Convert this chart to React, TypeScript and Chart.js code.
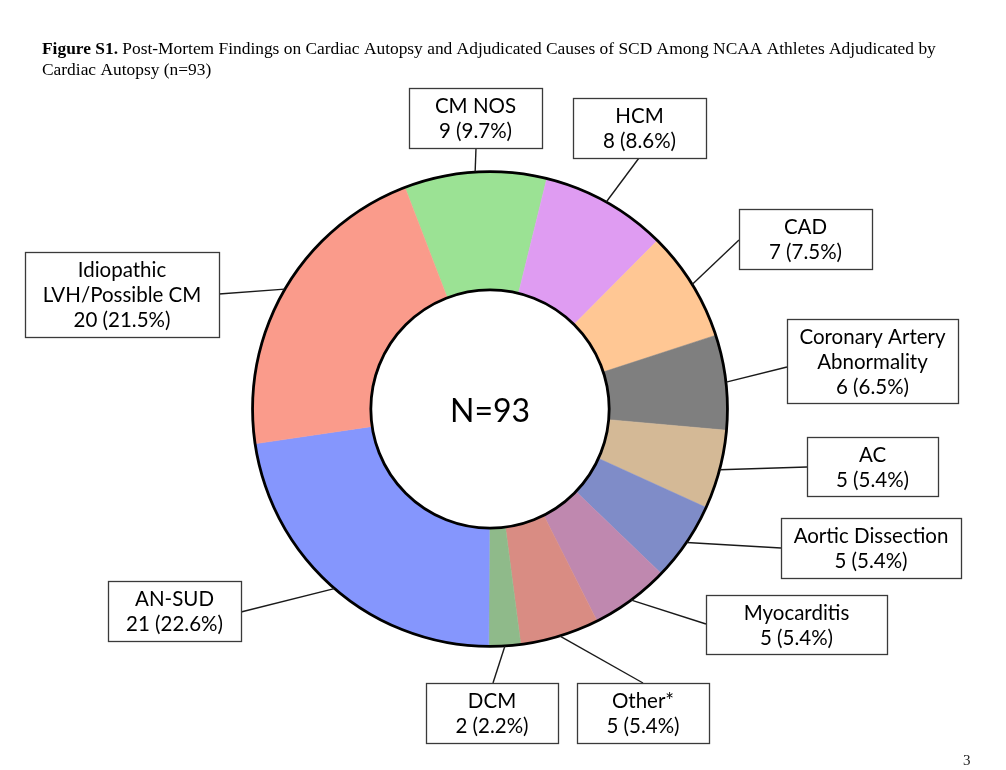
import { useEffect, useRef } from "react";
import { Chart, registerables } from "chart.js";

Chart.register(...registerables);

const categories: string[] = [
  "CM NOS",
  "HCM",
  "CAD",
  "Coronary Artery Abnormality",
  "AC",
  "Aortic Dissection",
  "Myocarditis",
  "Other*",
  "DCM",
  "AN-SUD",
  "Idiopathic LVH/Possible CM",
];
const counts: number[] = [9, 8, 7, 6, 5, 5, 5, 5, 2, 21, 20];
const labelLines: string[][] = [
  ["CM NOS"],
  ["HCM"],
  ["CAD"],
  ["Coronary Artery", "Abnormality"],
  ["AC"],
  ["Aortic Dissection"],
  ["Myocarditis"],
  ["Other*"],
  ["DCM"],
  ["AN-SUD"],
  ["Idiopathic", "LVH/Possible CM"],
];
const sliceColors: string[] = [
  "#9BE294",
  "#DF9CF2",
  "#FFC794",
  "#7F7F7F",
  "#D4B996",
  "#7F8CC8",
  "#BF88AF",
  "#D98C83",
  "#8FBA8A",
  "#8596FD",
  "#FA9B8B",
];
const totalN = 93;
const centerText = "N=93";
const titleBold = "Figure S1.";
const titleLine1 =
  " Post-Mortem Findings on Cardiac Autopsy and Adjudicated Causes of SCD Among NCAA Athletes Adjudicated by";
const titleLine2 = "Cardiac Autopsy (n=93)";
const pageNumber = "3";

// Label box layout: [left, top, width, height, anchorX, anchorY]
const boxLayout: number[][] = [
  [409, 88, 133, 60, 476, 148],
  [573, 98, 133, 60, 639, 158],
  [739, 209, 133, 60, 739, 240],
  [787, 319, 171, 84, 787, 367],
  [807, 437, 131, 59, 807, 467],
  [781, 518, 180, 60, 781, 548],
  [706, 595, 181, 59, 706, 624],
  [577, 683, 132, 60, 643, 683],
  [426, 683, 132, 60, 493, 683],
  [108, 581, 133, 60, 241, 612],
  [25, 252, 194, 85, 219, 294],
];

const LABEL_FONT = '20.5px Lato, "Noto Sans", sans-serif';

const annotationPlugin = {
  id: "annotations",
  afterDraw(chart: any) {
    const ctx: CanvasRenderingContext2D = chart.ctx;
    const meta = chart.getDatasetMeta(0);
    const arcs = meta.data;
    if (!arcs.length) return;
    const a0 = arcs[0];
    const cx = a0.x;
    const cy = a0.y;
    const outerR = a0.outerRadius;
    const innerR = a0.innerRadius;

    ctx.save();
    // rings
    ctx.strokeStyle = "#000";
    ctx.lineWidth = 2.8;
    ctx.beginPath();
    ctx.arc(cx, cy, outerR - 0.3, 0, Math.PI * 2);
    ctx.stroke();
    ctx.beginPath();
    ctx.arc(cx, cy, innerR + 0.3, 0, Math.PI * 2);
    ctx.stroke();

    // center text
    ctx.fillStyle = "#000";
    ctx.font = '32px Lato, "Noto Sans", sans-serif';
    ctx.textAlign = "center";
    ctx.textBaseline = "middle";
    ctx.fillText(centerText, cx, cy + 3);

    // leader lines + boxes
    arcs.forEach((arc: any, i: number) => {
      const mid = (arc.startAngle + arc.endAngle) / 2;
      const sx = cx + Math.cos(mid) * outerR;
      const sy = cy + Math.sin(mid) * outerR;
      const [bx, by, bw, bh, ax, ay] = boxLayout[i];
      ctx.strokeStyle = "#1a1a1a";
      ctx.lineWidth = 1.4;
      ctx.beginPath();
      ctx.moveTo(sx, sy);
      ctx.lineTo(ax, ay);
      ctx.stroke();

      ctx.fillStyle = "#fff";
      ctx.fillRect(bx, by, bw, bh);
      ctx.strokeStyle = "#3a3a3a";
      ctx.lineWidth = 1.3;
      ctx.strokeRect(bx + 0.5, by + 0.5, bw, bh);

      const value = counts[i];
      const pct = ((value / totalN) * 100).toFixed(1);
      const lines = [...labelLines[i], `${value} (${pct}%)`];
      ctx.fillStyle = "#000";
      ctx.font = LABEL_FONT;
      ctx.textAlign = "center";
      ctx.textBaseline = "middle";
      const lh = 25;
      const centerY = by + bh / 2;
      const first = centerY - ((lines.length - 1) * lh) / 2;
      lines.forEach((t, k) => {
        ctx.fillText(t, bx + bw / 2, first + k * lh + 1);
      });
    });

    // title
    ctx.textAlign = "left";
    ctx.textBaseline = "alphabetic";
    ctx.fillStyle = "#000";
    ctx.font = 'bold 17.4px "Liberation Serif", "Times New Roman", serif';
    ctx.fillText(titleBold, 42, 54);
    const bw0 = ctx.measureText(titleBold).width;
    ctx.font = '17.4px "Liberation Serif", "Times New Roman", serif';
    ctx.fillText(titleLine1, 42 + bw0, 54);
    ctx.fillText(titleLine2, 42, 75);

    // page number
    ctx.font = '15px "Liberation Serif", "Times New Roman", serif';
    ctx.fillStyle = "#222";
    ctx.fillText(pageNumber, 963, 765);
    ctx.restore();
  },
};

export default function App() {
  const canvasRef = useRef<HTMLCanvasElement | null>(null);

  useEffect(() => {
    const canvas = canvasRef.current;
    if (!canvas) return;
    const chart = new Chart(canvas, {
      type: "doughnut",
      data: {
        labels: categories,
        datasets: [
          {
            data: counts,
            backgroundColor: sliceColors,
            borderColor: sliceColors,
            borderWidth: 0.5,
            hoverOffset: 0,
            offset: 0,
          },
        ],
      },
      options: {
        responsive: false,
        maintainAspectRatio: false,
        devicePixelRatio: 1,
        animation: false,
        rotation: -21,
        cutout: "50%",
        layout: {
          padding: { left: 252, right: 278, top: 171, bottom: 123 },
        },
        plugins: {
          legend: { display: false },
          tooltip: { enabled: false },
        },
        events: [],
      },
      plugins: [annotationPlugin],
    });
    return () => chart.destroy();
  }, []);

  return (
    <div
      style={{
        position: "absolute",
        left: 0,
        top: 0,
        width: 1006,
        height: 770,
        background: "#fff",
      }}
    >
      <canvas ref={canvasRef} width={1006} height={770} style={{ width: 1006, height: 770 }} />
    </div>
  );
}
